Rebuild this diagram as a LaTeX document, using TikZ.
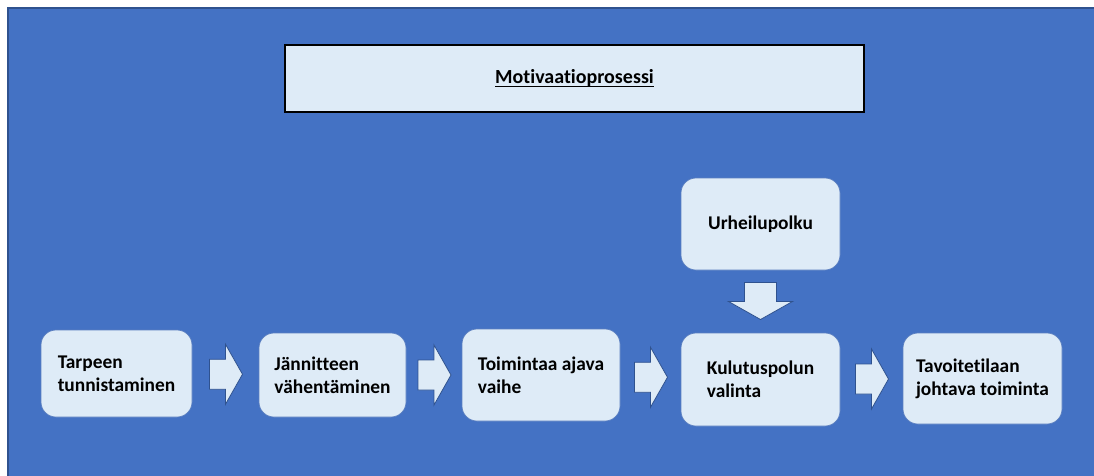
\documentclass[tikz,border=0pt]{standalone}
\usepackage{fontspec}
\setmainfont{Carlito}[Ligatures=NoCommon]
\usetikzlibrary{calc}
\definecolor{bgblue}{HTML}{4472C4}
\definecolor{bgedge}{HTML}{2F528F}
\definecolor{boxfill}{HTML}{DEEBF7}
\definecolor{boxedge}{HTML}{5B7FC0}
\newcommand{\ulbox}[1]{\setbox0\hbox{#1}\rlap{\rule[-3.6pt]{\wd0}{1.6pt}}\box0}
\newcommand{\rarrow}[2]{%
  \draw[blockarrow] let \p1=($(#1.east)!0.5!(#2.west)$) in
    (\x1-16pt,\y1+15pt) -- (\x1,\y1+15pt) -- (\x1,\y1+30pt) -- (\x1+17pt,\y1)
    -- (\x1,\y1-30pt) -- (\x1,\y1-15pt) -- (\x1-16pt,\y1-15pt) -- cycle;}
\newcommand{\darrow}[2]{%
  \draw[blockarrow] let \p1=($(#1.south)!0.5!(#2.north)$) in
    (\x1-16pt,\y1+19pt) -- (\x1+16pt,\y1+19pt) -- (\x1+16pt,\y1) -- (\x1+32pt,\y1)
    -- (\x1,\y1-18pt) -- (\x1-32pt,\y1) -- (\x1-16pt,\y1) -- cycle;}
\tikzset{
  stagebox/.style={draw=boxedge, line width=0.7pt, fill=boxfill, rounded corners=15pt,
    align=left, inner sep=0pt, font=\fontsize{19.4}{23}\selectfont\bfseries},
  titlebox/.style={draw=black, line width=1.6pt, fill=boxfill, inner sep=0pt,
    font=\fontsize{20}{24}\selectfont\bfseries},
  blockarrow/.style={draw=bgedge, line width=0.8pt, fill=boxfill, line join=miter},
}
\begin{document}
\begin{tikzpicture}[x=1pt, y=-1pt]
\useasboundingbox (0,0) rectangle (1094,475);
\clip (0,0) rectangle (1094,475);
\fill[white] (0,0) rectangle (1094,475);
\draw[bgedge, line width=1.5pt, fill=bgblue] (8,8) rectangle (1110,490);

\node[titlebox, minimum width=579pt, minimum height=67pt] (title) at (574.5,78.5) {\ulbox{Motivaatioprosessi}};

\node[stagebox, minimum width=151pt, minimum height=87pt] (b1) at (116.5,373.5) {Tarpeen\\tunnistaminen};
\node[stagebox, minimum width=147pt, minimum height=84pt] (b2) at (332.5,375) {Jännitteen\\vähentäminen};
\node[stagebox, minimum width=158pt, minimum height=92pt] (b3) at (541,375) {Toimintaa ajava\\vaihe};
\node[stagebox, minimum width=159pt, minimum height=93pt] (b4) at (760.5,379.5) {Kulutuspolun\\valinta};
\node[stagebox, minimum width=159pt, minimum height=91pt] (b5) at (982.5,378.5) {Tavoitetilaan\\johtava toiminta};
\node[stagebox, minimum width=159pt, minimum height=92pt] (up) at (760.5,224) {\raisebox{3pt}{Urheilupolku}};

\rarrow{b1}{b2}
\rarrow{b2}{b3}
\rarrow{b3}{b4}
\rarrow{b4}{b5}
\darrow{up}{b4}
\end{tikzpicture}
\end{document}
